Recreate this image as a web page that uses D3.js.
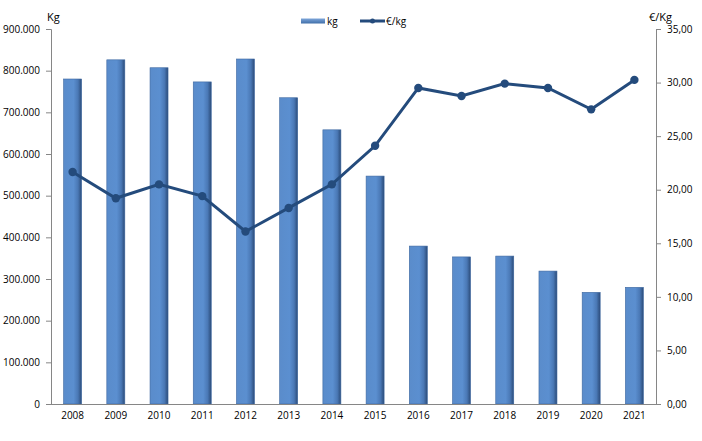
<!DOCTYPE html>
<html><head><meta charset="utf-8">
<script src="https://cdn.jsdelivr.net/npm/d3@7"></script>
<style>body{margin:0;background:#fff}svg{display:block}text{font-family:"Open Sans","Liberation Sans",sans-serif;}</style>
</head><body>
<svg id="c" width="702" height="441"></svg>
<script>
const years = ["2008","2009","2010","2011","2012","2013","2014","2015","2016","2017","2018","2019","2020","2021"];
const kg = [780000,826000,807000,773000,828000,735000,658000,547000,379000,353000,355000,319000,268000,280000];
const eurKg = [21.65,19.2,20.5,19.4,16.1,18.3,20.5,24.1,29.5,28.75,29.9,29.5,27.5,30.25];
const leftTicks = [0,100000,200000,300000,400000,500000,600000,700000,800000,900000];
const rightTicks = [0,5,10,15,20,25,30,35];

const svg = d3.select("#c");
const L = 51, R = 656, T = 29, B = 404;
const x = d3.scaleBand().domain(years).range([L, R]);
const yL = d3.scaleLinear().domain([0, 900000]).range([B, T]);
const yR = d3.scaleLinear().domain([0, 35]).range([B, T]);
const axisCol = "#868686";
const fmtL = v => d3.format(",")(v).replace(/,/g, ".");
const fmtR = v => d3.format(".2f")(v).replace(".", ",");

const defs = svg.append("defs");
const g = defs.append("linearGradient").attr("id","bg").attr("x1","0").attr("x2","1").attr("y1","0").attr("y2","0");
g.append("stop").attr("offset","0").attr("stop-color","#5a8ccb");
g.append("stop").attr("offset","0.55").attr("stop-color","#5b8fd0");
g.append("stop").attr("offset","0.8").attr("stop-color","#4a78b5");
g.append("stop").attr("offset","1").attr("stop-color","#2b4b78");
const lg = defs.append("linearGradient").attr("id","lg").attr("x1","0").attr("x2","0").attr("y1","0").attr("y2","1");
lg.append("stop").attr("offset","0").attr("stop-color","#7ea6da");
lg.append("stop").attr("offset","1").attr("stop-color","#3f6ea8");

// bars
const bw = 18;
svg.append("g").selectAll("rect").data(years).join("rect")
  .attr("x", d => x(d) + x.bandwidth()/2 - bw/2)
  .attr("y", (d,i) => yL(kg[i]))
  .attr("width", bw)
  .attr("height", (d,i) => B - yL(kg[i]))
  .attr("fill", "url(#bg)")
  .attr("stroke", "#3d67a0").attr("stroke-width", 0.6);

// left axis
const ga = svg.append("g").attr("transform", `translate(${L},0)`)
  .call(d3.axisLeft(yL).tickValues(leftTicks).tickFormat(fmtL).tickSize(5).tickPadding(6));
// right axis
const gr = svg.append("g").attr("transform", `translate(${R},0)`)
  .call(d3.axisRight(yR).tickValues(rightTicks).tickFormat(fmtR).tickSize(5).tickPadding(6));
// bottom axis
const gb = svg.append("g").attr("transform", `translate(0,${B})`)
  .call(d3.axisBottom(x).tickSize(0).tickPadding(8));
[ga, gr, gb].forEach(a => {
  a.selectAll("path.domain").attr("stroke", axisCol);
  a.selectAll("line").attr("stroke", axisCol);
  a.selectAll("text").attr("fill", "#000").style("font-size", "10px");
});
gb.select("path.domain").attr("d", `M${L},0.5H${R}`);

// line
const line = d3.line().x((d,i) => x(years[i]) + x.bandwidth()/2).y(d => yR(d));
svg.append("path").datum(eurKg).attr("d", line)
  .attr("fill","none").attr("stroke","#244b7c").attr("stroke-width",3);
svg.append("g").selectAll("circle").data(eurKg).join("circle")
  .attr("cx", (d,i) => x(years[i]) + x.bandwidth()/2)
  .attr("cy", d => yR(d)).attr("r", 4.2).attr("fill","#244b7c");

// axis titles
svg.append("text").attr("x", 47).attr("y", 21).text("Kg").style("font-size","11px");
svg.append("text").attr("x", 649).attr("y", 21).text("€/Kg").style("font-size","11px");

// legend
svg.append("rect").attr("x", 301).attr("y", 18.5).attr("width", 24).attr("height", 5).attr("fill","url(#lg)");
svg.append("text").attr("x", 327).attr("y", 24.5).text("kg").style("font-size","10px");
svg.append("line").attr("x1", 360).attr("x2", 385).attr("y1", 21).attr("y2", 21).attr("stroke","#244b7c").attr("stroke-width",3);
svg.append("circle").attr("cx", 372.5).attr("cy", 21).attr("r", 2.5).attr("fill","#244b7c");
svg.append("text").attr("x", 386).attr("y", 24.5).text("€/kg").style("font-size","10px");
</script>
</body></html>
